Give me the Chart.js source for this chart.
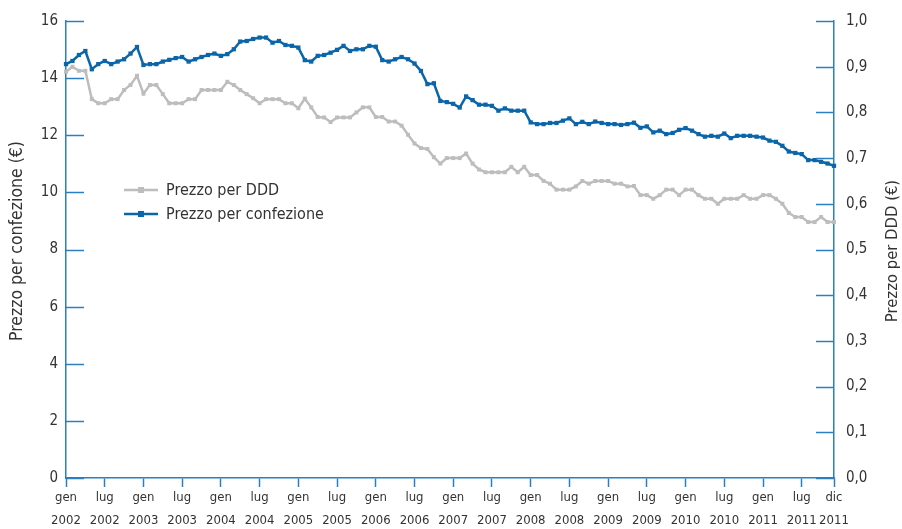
<!DOCTYPE html>
<html>
<head>
<meta charset="utf-8">
<script src="https://cdn.jsdelivr.net/npm/chart.js"></script>
<style>
  html, body { margin: 0; padding: 0; background: #fff; }
  #wrap { width: 902px; height: 529px; }
</style>
</head>
<body>
<div id="wrap"><canvas id="chart" width="902" height="529"></canvas></div>
<script>
// months / years for the category axis
const monthNames = ["gen", "feb", "mar", "apr", "mag", "giu", "lug", "ago", "set", "ott", "nov", "dic"];
const years = [2002, 2003, 2004, 2005, 2006, 2007, 2008, 2009, 2010, 2011];

// Prezzo per confezione (€), left axis
const prezzoConfezione = [
  14.49, 14.60, 14.81, 14.95, 14.31, 14.49, 14.60, 14.49, 14.58, 14.66, 14.86, 15.09,
  14.46, 14.49, 14.49, 14.58, 14.64, 14.70, 14.74, 14.58, 14.66, 14.74, 14.81, 14.86,
  14.78, 14.84, 15.01, 15.28, 15.30, 15.37, 15.42, 15.42, 15.24, 15.30, 15.16, 15.13,
  15.07, 14.63, 14.58, 14.78, 14.81, 14.89, 14.99, 15.13, 14.95, 15.01, 15.01, 15.13,
  15.10, 14.63, 14.58, 14.66, 14.74, 14.66, 14.51, 14.25, 13.79, 13.82, 13.20, 13.16,
  13.10, 12.97, 13.36, 13.23, 13.07, 13.07, 13.03, 12.86, 12.94, 12.86, 12.86, 12.86,
  12.45, 12.39, 12.39, 12.43, 12.43, 12.51, 12.59, 12.39, 12.47, 12.39, 12.48, 12.43,
  12.39, 12.39, 12.36, 12.39, 12.44, 12.26, 12.31, 12.10, 12.16, 12.04, 12.08, 12.19,
  12.25, 12.16, 12.04, 11.95, 11.98, 11.95, 12.06, 11.90, 11.98, 11.98, 11.98, 11.95,
  11.92, 11.81, 11.77, 11.63, 11.43, 11.38, 11.34, 11.13, 11.13, 11.07, 11.01, 10.93
];

// Prezzo per DDD (€), right axis
const prezzoDDD = [
  0.889, 0.900, 0.891, 0.891, 0.829, 0.820, 0.820, 0.829, 0.829, 0.849, 0.860, 0.880,
  0.841, 0.860, 0.860, 0.840, 0.820, 0.820, 0.820, 0.829, 0.829, 0.849, 0.849, 0.849,
  0.849, 0.867, 0.860, 0.849, 0.840, 0.831, 0.820, 0.829, 0.829, 0.829, 0.820, 0.820,
  0.809, 0.830, 0.811, 0.790, 0.789, 0.779, 0.789, 0.789, 0.789, 0.800, 0.811, 0.811,
  0.790, 0.790, 0.780, 0.780, 0.771, 0.751, 0.732, 0.722, 0.720, 0.702, 0.688, 0.700,
  0.700, 0.700, 0.710, 0.688, 0.675, 0.669, 0.669, 0.669, 0.669, 0.681, 0.669, 0.681,
  0.663, 0.663, 0.650, 0.644, 0.631, 0.631, 0.631, 0.638, 0.650, 0.644, 0.650, 0.650,
  0.650, 0.644, 0.644, 0.638, 0.639, 0.619, 0.619, 0.611, 0.619, 0.631, 0.631, 0.619,
  0.631, 0.631, 0.619, 0.611, 0.611, 0.600, 0.611, 0.611, 0.611, 0.619, 0.611, 0.611,
  0.619, 0.619, 0.611, 0.600, 0.580, 0.571, 0.571, 0.560, 0.560, 0.571, 0.560, 0.560
];

const leftTicks = [0, 2, 4, 6, 8, 10, 12, 14, 16];
const rightTicks = [0, 0.1, 0.2, 0.3, 0.4, 0.5, 0.6, 0.7, 0.8, 0.9, 1.0];

const labels = [];
years.forEach(y => monthNames.forEach(m => labels.push([m, String(y)])));

const BLUE = "#0b65a9";
const GREY = "#bdbdbd";
const AXIS = "#2b7fc0";
const TEXT = "#333333";
const FONT = "'DejaVu Sans Condensed', 'Open Sans', sans-serif";

const showTick = i => i % 6 === 0 || i === labels.length - 1;

const extras = {
  id: "extras",
  afterDraw(chart) {
    const ctx = chart.ctx;
    const area = chart.chartArea;
    const yL = chart.scales.y, yR = chart.scales.y1;
    ctx.save();
    ctx.strokeStyle = AXIS;
    ctx.lineWidth = 1.5;
    // inward tick marks on both value axes
    leftTicks.forEach(v => {
      const py = Math.round(yL.getPixelForValue(v)) + 0.5;
      ctx.beginPath(); ctx.moveTo(area.left, py); ctx.lineTo(area.left + 18, py); ctx.stroke();
    });
    rightTicks.forEach(v => {
      const py = Math.round(yR.getPixelForValue(v)) + 0.5;
      ctx.beginPath(); ctx.moveTo(area.right - 18, py); ctx.lineTo(area.right, py); ctx.stroke();
    });
    // axis titles
    ctx.fillStyle = TEXT;
    ctx.textAlign = "center";
    ctx.textBaseline = "middle";
    ctx.save();
    ctx.font = "17.5px " + FONT;
    ctx.translate(17, 241);
    ctx.rotate(-Math.PI / 2);
    ctx.fillText("Prezzo per confezione (€)", 0, 0);
    ctx.restore();
    ctx.save();
    ctx.font = "16.5px " + FONT;
    ctx.translate(893, 251);
    ctx.rotate(-Math.PI / 2);
    ctx.fillText("Prezzo per DDD (€)", 0, 0);
    ctx.restore();
    // legend
    const items = [
      { text: "Prezzo per DDD", color: GREY, y: 190 },
      { text: "Prezzo per confezione", color: BLUE, y: 214 }
    ];
    ctx.font = "16px " + FONT;
    ctx.textAlign = "left";
    items.forEach(it => {
      ctx.strokeStyle = it.color;
      ctx.lineWidth = 2.5;
      ctx.beginPath(); ctx.moveTo(124, it.y); ctx.lineTo(158, it.y); ctx.stroke();
      ctx.fillStyle = it.color;
      ctx.fillRect(138, it.y - 3, 6, 6);
      ctx.fillStyle = TEXT;
      ctx.fillText(it.text, 166, it.y + 1);
    });
    ctx.restore();
  }
};

new Chart(document.getElementById("chart"), {
  type: "line",
  data: {
    labels,
    datasets: [
      {
        label: "Prezzo per DDD",
        data: prezzoDDD,
        yAxisID: "y1",
        borderColor: GREY,
        backgroundColor: GREY,
        borderWidth: 2.5,
        pointStyle: "rect",
        pointRadius: 2.8,
        pointBorderWidth: 0,
        tension: 0
      },
      {
        label: "Prezzo per confezione",
        data: prezzoConfezione,
        yAxisID: "y",
        borderColor: BLUE,
        backgroundColor: BLUE,
        borderWidth: 2.5,
        pointStyle: "rect",
        pointRadius: 3,
        pointBorderWidth: 0,
        tension: 0
      }
    ]
  },
  options: {
    responsive: false,
    animation: false,
    devicePixelRatio: 1,
    layout: { padding: { top: 20, left: 0, right: 0, bottom: 0 } },
    plugins: {
      legend: { display: false },
      tooltip: { enabled: false }
    },
    scales: {
      x: {
        type: "category",
        offset: false,
        afterFit(scale) { scale.height = 51; },
        border: { display: true, color: AXIS, width: 1.5 },
        grid: {
          drawOnChartArea: false,
          drawTicks: true,
          tickLength: 9,
          tickWidth: 1.5,
          tickColor: ctx => showTick(ctx.index) ? AXIS : "rgba(0,0,0,0)"
        },
        ticks: {
          autoSkip: false,
          maxRotation: 0,
          minRotation: 0,
          padding: 0,
          color: TEXT,
          font: { family: FONT, size: 13, lineHeight: 1.7 },
          callback(value, index) { return showTick(index) ? labels[index] : ""; }
        }
      },
      y: {
        position: "left",
        min: 0,
        max: 16,
        afterFit(scale) { scale.width = 66; },
        afterBuildTicks(scale) { scale.ticks = leftTicks.map(v => ({ value: v })); },
        border: { display: true, color: AXIS, width: 1.5 },
        grid: { display: false, drawTicks: false },
        ticks: {
          padding: 8,
          color: TEXT,
          font: { family: FONT, size: 15 },
          callback: v => String(v)
        }
      },
      y1: {
        position: "right",
        min: 0,
        max: 1,
        afterFit(scale) { scale.width = 68; },
        afterBuildTicks(scale) { scale.ticks = rightTicks.map(v => ({ value: v })); },
        border: { display: true, color: AXIS, width: 1.5 },
        grid: { display: false, drawTicks: false },
        ticks: {
          padding: 12,
          color: TEXT,
          font: { family: FONT, size: 15 },
          callback: v => v.toFixed(1).replace(".", ",")
        }
      }
    }
  },
  plugins: [extras]
});
</script>
</body>
</html>
